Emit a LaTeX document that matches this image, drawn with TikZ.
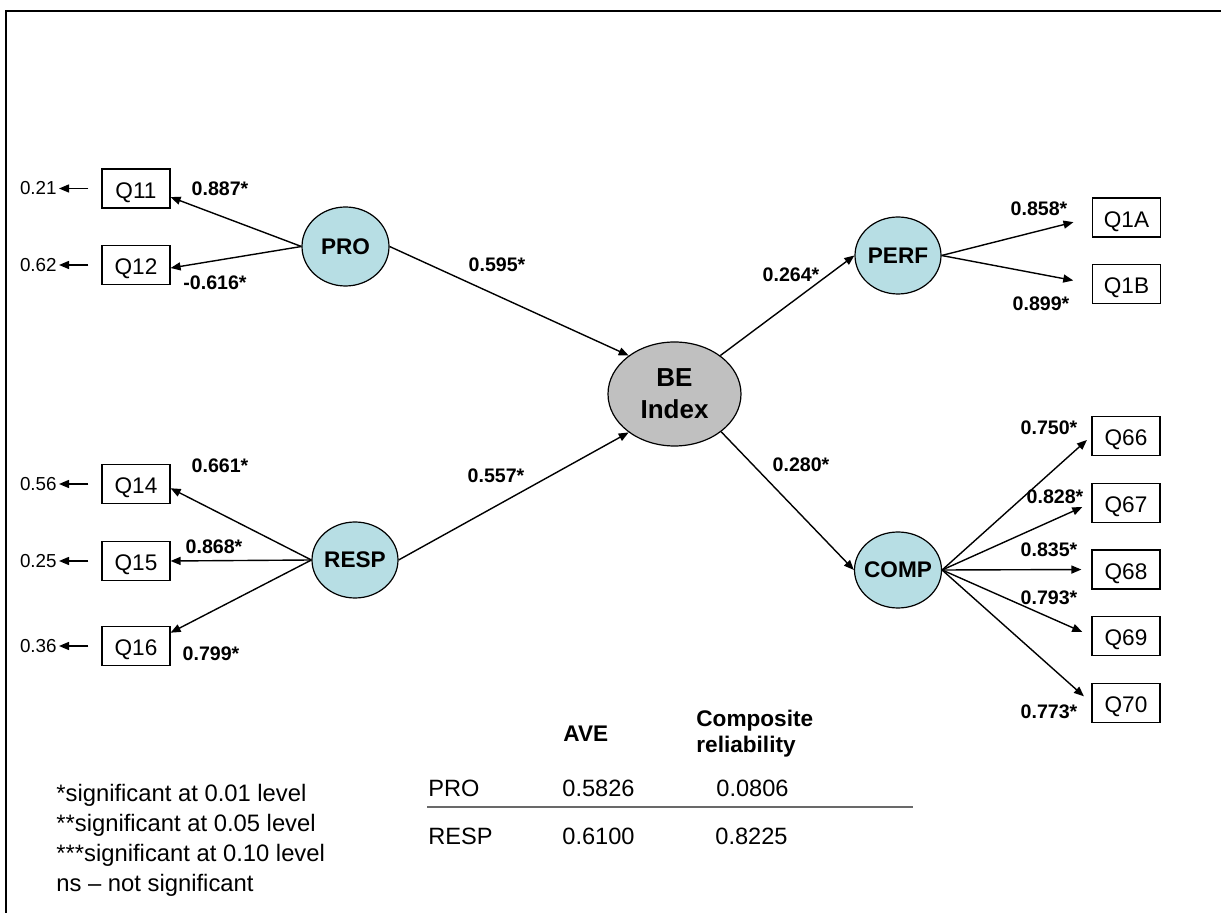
\documentclass[tikz,border=0pt]{standalone}
\usepackage{fontspec}
\setmainfont{Liberation Sans}
\usetikzlibrary{arrows.meta,shapes.geometric}
\definecolor{latentfill}{RGB}{183,222,228}
\definecolor{corefill}{RGB}{192,192,192}
\definecolor{rulegray}{RGB}{105,105,105}

\begin{document}
\begin{tikzpicture}[x=0.5pt,y=-0.5pt,
  item/.style={draw, line width=0.6pt, minimum width=34pt, minimum height=19.5pt,
    inner sep=0pt, text height=10pt, text depth=0pt, font=\fontsize{11.3}{13}\selectfont},
  latent/.style={ellipse, draw, line width=0.6pt, fill=latentfill, inner sep=0pt},
  lname/.style={font=\fontsize{11.3}{13}\selectfont\bfseries, inner sep=0pt},
  link/.style={line width=0.7pt, -{Triangle[length=5pt,width=4pt]}},
  coef/.style={font=\fontsize{9.8}{11}\selectfont\bfseries, inner sep=0pt},
  err/.style={font=\fontsize{9.4}{11}\selectfont, inner sep=0pt, anchor=east},
  note/.style={font=\fontsize{11.9}{14}\selectfont, inner sep=0pt, anchor=base west},
  cell/.style={font=\fontsize{11.8}{14}\selectfont, inner sep=0pt, anchor=base west},
  head/.style={font=\fontsize{11.3}{13}\selectfont\bfseries, inner sep=0pt, anchor=base west},
]
\useasboundingbox (0,0) rectangle (1221,913);

% outer frame (top and left edges)
\coordinate (fbl) at (5.5,913);
\coordinate (ftl) at (5.5,11);
\coordinate (ftr) at (1221,11);
\draw[line width=1pt] (fbl) -- (ftl) -- (ftr);

% latent variables
\node[latent, minimum width=43.5pt, minimum height=39.5pt,
      label={[lname]center:PRO}] (PRO) at (345.5,246.5) {};
\node[latent, minimum width=43pt, minimum height=38pt,
      label={[lname]center:RESP}] (RESP) at (355,560) {};
\node[latent, fill=corefill, minimum width=66.5pt, minimum height=52pt,
      label={[inner sep=0pt, align=center,
              font=\fontsize{13}{16}\selectfont\bfseries]center:BE\\Index}] (BE) at (674.5,394) {};
\node[latent, minimum width=43pt, minimum height=38.5pt,
      label={[lname]center:PERF}] (PERF) at (898,255.5) {};
\node[latent, minimum width=43.5pt, minimum height=38pt,
      label={[lname]center:COMP}] (COMP) at (898,570) {};

% indicators
\node[item] (Q11) at (136,188.5) {Q11};
\node[item] (Q12) at (136,265) {Q12};
\node[item] (Q14) at (136,484) {Q14};
\node[item] (Q15) at (136,561) {Q15};
\node[item] (Q16) at (136,646) {Q16};
\node[item] (Q1A) at (1126.5,217.5) {Q1A};
\node[item] (Q1B) at (1126.5,284) {Q1B};
\node[item] (Q66) at (1126,436) {Q66};
\node[item] (Q67) at (1126,503) {Q67};
\node[item] (Q68) at (1126,569.5) {Q68};
\node[item] (Q69) at (1126,636) {Q69};
\node[item] (Q70) at (1126,703) {Q70};

% error variances
\node[err] (e11) at (57,188.5) {0.21};
\node[err] (e12) at (57,265) {0.62};
\node[err] (e14) at (57,484) {0.56};
\node[err] (e15) at (57,561) {0.25};
\node[err] (e16) at (57,646) {0.36};
\foreach \q in {11,12,14,15,16}
  \draw[link] ([xshift=-6.5pt]Q\q.west) -- ([xshift=1pt]e\q.east);

% measurement paths
\draw[link] (PRO.west) -- (Q11.-14);
\draw[link] (PRO.west) -- (Q12.-5);
\draw[link] (RESP.west) -- (Q14.-7);
\draw[link] (RESP.west) -- (Q15.east);
\draw[link] (RESP.west) -- (Q16.21);
\draw[link, shorten >=9.5pt] (PERF.east) -- (Q1A.west);
\draw[link, shorten >=9.5pt] (PERF.east) -- (Q1B.west);
\draw[link, shorten >=3pt] (COMP.east) -- (Q66.west);
\draw[link, shorten >=5pt] (COMP.east) -- (Q67.west);
\draw[link, shorten >=5pt] (COMP.east) -- (Q68.west);
\draw[link, shorten >=5pt] (COMP.east) -- (Q69.west);
\draw[link, shorten >=5pt] (COMP.east) -- (Q70.west);

% structural paths
\draw[link] (PRO.east) -- (BE.140);
\draw[link] (RESP.east) -- (BE.220);
\draw[link] (BE.40) -- (PERF.west);
\draw[link] (BE.-39) -- (COMP.west);

% path coefficients
\node[coef] (k11) at (220,189) {0.887*};
\node[coef] (k12) at (215,283) {-0.616*};
\node[coef] (k14) at (220,466) {0.661*};
\node[coef] (k15) at (214,547) {0.868*};
\node[coef] (k16) at (211,654) {0.799*};
\node[coef] (kpro) at (497,265) {0.595*};
\node[coef] (kresp) at (496,476) {0.557*};
\node[coef] (kperf) at (791,275) {0.264*};
\node[coef] (kcomp) at (801,465) {0.280*};
\node[coef] (k1a) at (1039,208.5) {0.858*};
\node[coef] (k1b) at (1041,303.5) {0.899*};
\node[coef] (k66) at (1049,428) {0.750*};
\node[coef] (k67) at (1055,497) {0.828*};
\node[coef] (k68) at (1049,550) {0.835*};
\node[coef] (k69) at (1049,598) {0.793*};
\node[coef] (k70) at (1049,712) {0.773*};

% significance notes
\node[note] (n1) at (56,801.5) {*significant at 0.01 level};
\node[note] (n2) at (56,831.5) {**significant at 0.05 level};
\node[note] (n3) at (56,861.5) {***significant at 0.10 level};
\node[note] (n4) at (56,891.5) {ns -- not significant};

% reliability table
\node[head] (hAVE) at (563,742) {AVE};
\node[head] (hCR1) at (696,727) {Composite};
\node[head] (hCR2) at (696,753) {reliability};
\node[cell] (tPRO) at (428,797) {PRO};
\node[cell] (tPROa) at (562,797) {0.5826};
\node[cell] (tPROc) at (716,797) {0.0806};
\node[cell] (tRESP) at (428,845) {RESP};
\node[cell] (tRESPa) at (562,845) {0.6100};
\node[cell] (tRESPc) at (715,845) {0.8225};
\coordinate (rl) at (427,807.5);
\coordinate (rr) at (913,807.5);
\draw[rulegray, line width=1pt] (rl) -- (rr);
\end{tikzpicture}
\end{document}
